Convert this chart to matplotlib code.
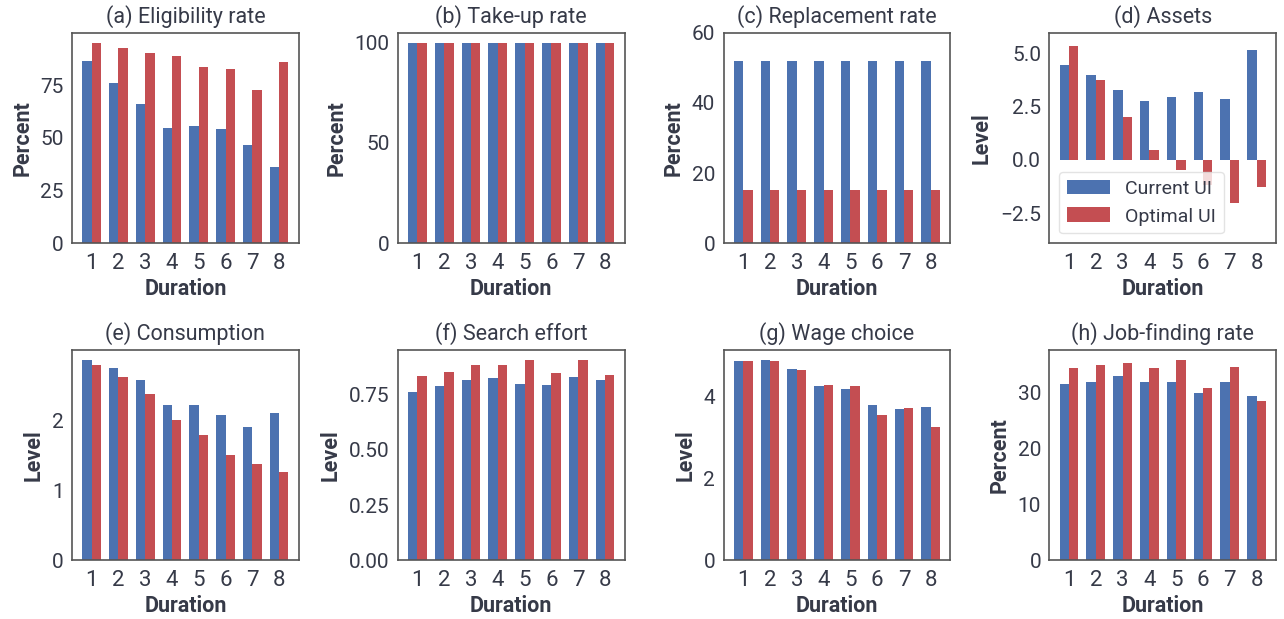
import numpy as np
import matplotlib
matplotlib.use("Agg")
import matplotlib.pyplot as plt

# Données (durées 1 à 8)
durations = [1, 2, 3, 4, 5, 6, 7, 8]

eligibility_current = [86.4, 75.9, 66.0, 54.6, 55.5, 54.1, 46.5, 36.1]
eligibility_optimal = [95.0, 92.6, 90.2, 88.8, 83.5, 82.6, 72.6, 85.9]

takeup_current = [100, 100, 100, 100, 100, 100, 100, 100]
takeup_optimal = [100, 100, 100, 100, 100, 100, 100, 100]

replacement_current = [51.9, 51.9, 51.9, 51.9, 51.9, 51.9, 51.9, 51.9]
replacement_optimal = [15.1, 15.1, 15.1, 15.1, 15.1, 15.1, 15.1, 15.1]

assets_current = [4.45, 3.98, 3.28, 2.77, 2.95, 3.19, 2.86, 5.16]
assets_optimal = [5.34, 3.75, 2.02, 0.47, -0.47, -1.17, -2.0, -1.27]

consumption_current = [2.86, 2.74, 2.57, 2.21, 2.21, 2.07, 1.90, 2.10]
consumption_optimal = [2.79, 2.61, 2.37, 2.00, 1.79, 1.50, 1.37, 1.26]

search_current = [0.764, 0.791, 0.818, 0.827, 0.800, 0.795, 0.832, 0.818]
search_optimal = [0.836, 0.855, 0.886, 0.886, 0.909, 0.850, 0.909, 0.841]

wage_current = [4.87, 4.89, 4.67, 4.26, 4.19, 3.80, 3.70, 3.75]
wage_optimal = [4.85, 4.85, 4.65, 4.28, 4.24, 3.55, 3.72, 3.24]

jobfinding_current = [31.4, 31.9, 33.0, 31.9, 31.9, 29.8, 31.9, 29.4]
jobfinding_optimal = [34.4, 34.9, 35.3, 34.4, 35.8, 30.8, 34.6, 28.5]

BLUE = '#4C72B0'
RED = '#C44E52'
TEXT = '#363a48'

plt.rcParams['font.family'] = ['Roboto', 'DejaVu Sans']
plt.rcParams['text.color'] = TEXT
plt.rcParams['axes.labelcolor'] = TEXT
plt.rcParams['xtick.color'] = TEXT
plt.rcParams['ytick.color'] = TEXT

# (titre, label y, courant, optimal, limites y, graduations y)
panels = [
    ("(a) Eligibility rate", "Percent", eligibility_current, eligibility_optimal, None, [0, 25, 50, 75]),
    ("(b) Take-up rate", "Percent", takeup_current, takeup_optimal, None, [0, 50, 100]),
    ("(c) Replacement rate", "Percent", replacement_current, replacement_optimal, (0, 60), [0, 20, 40, 60]),
    ("(d) Assets", "Level", assets_current, assets_optimal, (-3.9, 5.95), [-2.5, 0.0, 2.5, 5.0]),
    ("(e) Consumption", "Level", consumption_current, consumption_optimal, None, [0, 1, 2]),
    ("(f) Search effort", "Level", search_current, search_optimal, None, [0.0, 0.25, 0.5, 0.75]),
    ("(g) Wage choice", "Level", wage_current, wage_optimal, None, [0, 2, 4]),
    ("(h) Job-finding rate", "Percent", jobfinding_current, jobfinding_optimal, None, [0, 10, 20, 30]),
]

fig, axes = plt.subplots(2, 4, figsize=(12.84, 6.19), dpi=100)
fig.subplots_adjust(left=0.056, right=0.994, top=0.947, bottom=0.095, wspace=0.436, hspace=0.507)

x = np.array(durations)
width = 0.35

for ax, (title, ylab, cur, opt, ylim, yticks) in zip(axes.flat, panels):
    ax.bar(x - width / 2, cur, width, color=BLUE, label='Current UI')
    ax.bar(x + width / 2, opt, width, color=RED, label='Optimal UI')
    ax.set_title(title, fontsize=15.5, pad=7)
    ax.set_xlabel("Duration", fontsize=15.5, fontweight='bold', labelpad=3)
    ax.set_ylabel(ylab, fontsize=15.5, fontweight='bold', labelpad=5)
    ax.set_xticks(x)
    ax.set_yticks(yticks)
    if ylim is not None:
        ax.set_ylim(*ylim)
    if title.startswith("(f)"):
        ax.set_yticklabels(["0.00", "0.25", "0.50", "0.75"])
    if title.startswith("(d)"):
        ax.set_yticklabels(["\u22122.5", "0.0", "2.5", "5.0"])
    ax.tick_params(axis='x', length=0, labelsize=16, pad=7)
    ax.tick_params(axis='y', length=0, labelsize=15, pad=6)
    for sp in ax.spines.values():
        sp.set_color('#555555')
        sp.set_linewidth(1.2)

axes[0, 3].legend(loc='lower left', fontsize=14, handlelength=2.2, handleheight=0.8,
                  framealpha=0.8, edgecolor='#dddddd')

fig.savefig("out.png", dpi=100)
